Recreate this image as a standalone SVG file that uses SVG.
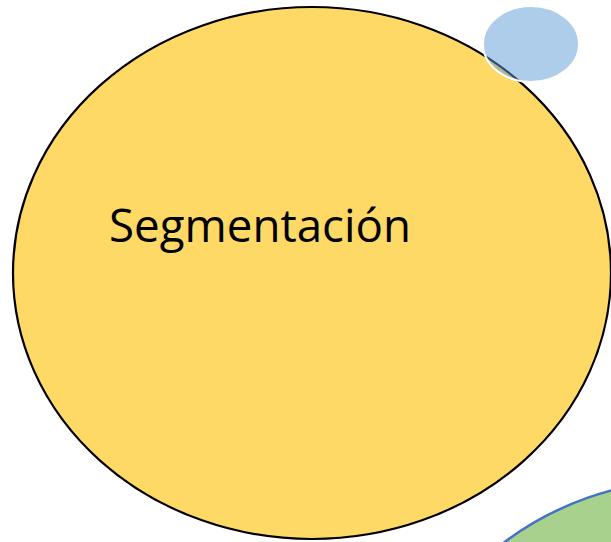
<svg xmlns="http://www.w3.org/2000/svg" width="611" height="542" viewBox="0 0 611 542">
<style>
.lbl{font-family:"Open Sans","Liberation Sans",sans-serif;font-size:45px;fill:#000}
</style>
<rect width="611" height="542" fill="#fff"/>
<g id="segmentacion">
<ellipse cx="312" cy="273" rx="299" ry="266" fill="#FFD966" stroke="#000" stroke-width="2.2"/>
<text class="lbl" x="109" y="242" textLength="302" lengthAdjust="spacingAndGlyphs">Segmentación</text>
</g>
<g id="green">
<ellipse cx="698" cy="745" rx="299" ry="266" fill="#A9D18E" stroke="#4472C4" stroke-width="2.5"/>
</g>
<g id="blue">
<ellipse cx="531" cy="44" rx="48" ry="38" fill="#5B9BD5" fill-opacity="0.5" stroke="#fff" stroke-width="2"/>
</g>
<g id="connectors"/>
</svg>
